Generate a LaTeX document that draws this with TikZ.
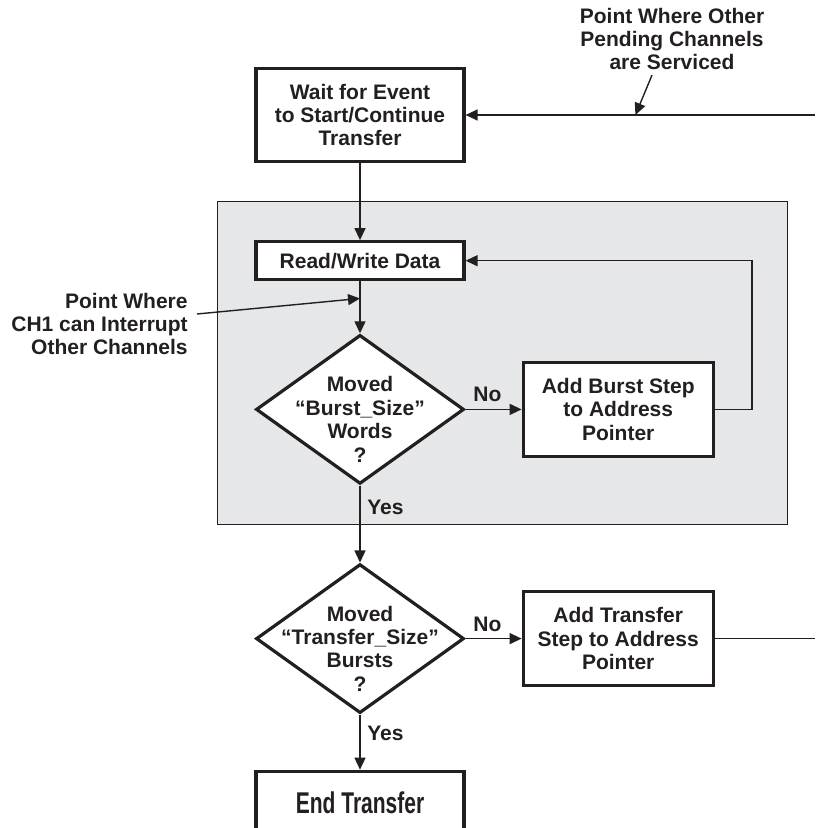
\documentclass[tikz,border=0pt]{standalone}
\usepackage{fontspec}
\setmainfont{Liberation Sans}
\newfontfamily\condfont[FakeStretch=0.7]{Liberation Sans}
\usetikzlibrary{positioning,shapes.geometric,arrows.meta,calc}
\definecolor{ink}{HTML}{231F20}
\definecolor{panel}{HTML}{E6E7E8}
\tikzset{
  stepbox/.style={draw=ink, line width=1.6pt, fill=white, minimum width=104pt, inner sep=0pt, align=center},
  decision/.style={diamond, draw=ink, line width=1.6pt, fill=white, minimum width=104pt, minimum height=74.5pt, inner sep=0pt},
  flow/.style={draw=ink, line width=0.7pt, -{Triangle[length=6pt,width=5.5pt]}},
  note/.style={inner sep=0pt, align=center},
}

\begin{document}
\begin{tikzpicture}[font=\bfseries\fontsize{10.5}{11.7}\selectfont, color=ink]
    \useasboundingbox (0,0) rectangle (407.5pt,-414pt);
    \filldraw[fill=panel, draw=ink, line width=0.5pt] (108.5pt,-101pt) rectangle (393.5pt,-262pt);

    \node[stepbox, minimum height=46.5pt] (wait) at (180pt,-57.5pt) {Wait for Event\\to Start/Continue\\Transfer};
    \node[below=38.5pt of wait, stepbox, minimum height=19pt] (rw) {Read/Write Data};
    \node[below=26pt of rw, decision, label={[yshift=-5pt, note]center:Moved\\“Burst\_Size”\\Words\\?}] (d1) {};
    \node[right=28pt of d1, stepbox, minimum width=95pt, minimum height=47pt] (burst) {Add Burst Step\\to Address\\Pointer};
    \node[below=38.5pt of d1, decision, label={[yshift=-5pt, note]center:Moved\\“Transfer\_Size”\\Bursts\\?}] (d2) {};
    \node[right=28pt of d2, stepbox, minimum width=95pt, minimum height=47pt] (xfer) {Add Transfer\\Step to Address\\Pointer};
    \node[below=27.5pt of d2, stepbox, minimum height=31pt, font=\condfont\bfseries\fontsize{15}{18}\selectfont] (done) {End Transfer};

    \coordinate (rim) at (407.5pt,0);
    \node[note, anchor=east, align=right] (n1) at (94pt,-162pt) {Point Where\\CH1 can Interrupt\\Other Channels};
    \node[note] (n2) at (336pt,-19.5pt) {Point Where Other\\Pending Channels\\are Serviced};
    \coordinate (t1) at ($(rw.south)!0.33!(d1.north)$);
    \coordinate (t2) at ($(wait.east)!0.486!(wait.east -| rim)$);

    \draw[flow] (wait.east -| rim) -- (wait.east);
    \draw[flow] (wait) -- (rw);
    \draw[flow] (rw) -- (d1);
    \draw[flow] (d1) -- node[pos=0.39, above] {No} (burst);
    \draw[flow] (burst.east) -- ++(18.5pt,0) |- (rw.east);
    \draw[flow] (d1) -- node[pos=0.29, right] {Yes} (d2);
    \draw[flow] (d2) -- node[pos=0.39, above] {No} (xfer);
    \draw[flow] (d2) -- node[pos=0.34, right] {Yes} (done);
    \draw[draw=ink, line width=0.7pt] (xfer.east) -- (xfer.east -| rim);
    \draw[flow] ([shift={(4.5pt,5pt)}]n1.east) -- (t1);
    \draw[flow] ([shift={(-10pt,-2.3pt)}]n2.south) -- (t2);
\end{tikzpicture}
\end{document}
